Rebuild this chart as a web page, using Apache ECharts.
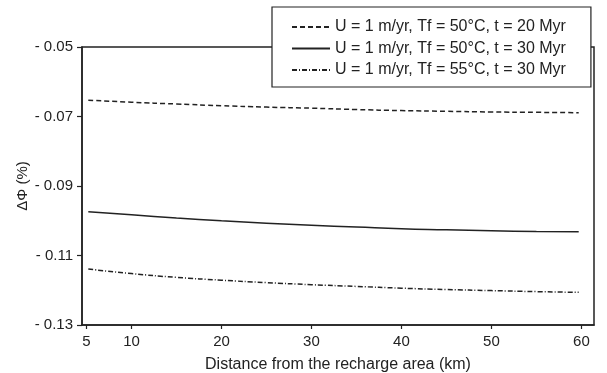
<!DOCTYPE html>
<html>
<head>
<meta charset="utf-8">
<script src="https://cdn.jsdelivr.net/npm/echarts@6/dist/echarts.min.js"></script>
<style>
  html, body { margin: 0; padding: 0; background: #fff; }
  #chart { width: 607px; height: 373px; }
</style>
</head>
<body>
<div id="chart"></div>
<script>
// distance from the recharge area (km)
const distance = [5.2, 10, 15, 20, 25, 30, 35, 40, 45, 50, 55, 59.7]

// ΔΦ (%) per scenario
const phi20Myr50C = [-0.0653, -0.0659, -0.0664, -0.0669, -0.0673, -0.0676, -0.0680, -0.0683, -0.0685, -0.0687, -0.0688, -0.0689]
const phi30Myr50C = [-0.0974, -0.0983, -0.0992, -0.1000, -0.1007, -0.1013, -0.1018, -0.1023, -0.1026, -0.1029, -0.1031, -0.1032]
const phi30Myr55C = [-0.1139, -0.1152, -0.1163, -0.1171, -0.1178, -0.1184, -0.1189, -0.1194, -0.1198, -0.1201, -0.1204, -0.1206]

const seriesNames = [
  'U = 1 m/yr, Tf = 50°C, t = 20 Myr',
  'U = 1 m/yr, Tf = 50°C, t = 30 Myr',
  'U = 1 m/yr, Tf = 55°C, t = 30 Myr',
]

const xTicks = [5, 10, 20, 30, 40, 50, 60]
const yTicks = [-0.13, -0.11, -0.09, -0.07, -0.05]

const ink = '#222'
const font = 'Liberation Sans, Arial, sans-serif'

const pairs = ys => distance.map((x, i) => [x, ys[i]])

const lineSeries = (name, ys, type) => ({
  name,
  type: 'line',
  symbol: 'none',
  smooth: true,
  data: pairs(ys),
  itemStyle: { color: ink },
  lineStyle: { color: ink, width: 1.5, type },
})

const option = {
  animation: false,
  backgroundColor: '#fff',
  grid: {
    left: 82,
    right: 13,
    top: 47,
    bottom: 48,
    outerBoundsMode: 'none',
    show: true,
    borderColor: ink,
    borderWidth: 1.5,
  },
  legend: {
    orient: 'vertical',
    left: 272,
    top: 7,
    padding: [12, 25, 9, 19],
    itemWidth: 38,
    itemHeight: 14,
    itemGap: 5.5,
    backgroundColor: '#fff',
    borderColor: ink,
    borderWidth: 1.2,
    itemStyle: { opacity: 0 },
    textStyle: { fontFamily: font, fontSize: 16, color: ink },
    data: seriesNames,
  },
  xAxis: {
    type: 'value',
    min: 4.5,
    max: 61.4,
    name: 'Distance from the recharge area (km)',
    nameLocation: 'middle',
    nameGap: 32,
    nameTextStyle: { fontFamily: font, fontSize: 16, color: ink },
    splitLine: { show: false },
    axisLine: { lineStyle: { color: ink, width: 1.5 } },
    axisTick: { customValues: xTicks, length: 4, lineStyle: { color: ink, width: 1.2 } },
    axisLabel: {
      customValues: xTicks,
      margin: 9,
      fontFamily: font,
      fontSize: 15,
      color: ink,
    },
  },
  yAxis: {
    type: 'value',
    min: -0.13,
    max: -0.05,
    name: 'ΔΦ (%)',
    nameLocation: 'middle',
    nameGap: 52,
    nameMoveOverlap: false,
    nameTextStyle: { fontFamily: font, fontSize: 15, color: ink },
    splitLine: { show: false },
    axisLine: { lineStyle: { color: ink, width: 1.5 } },
    axisTick: { customValues: yTicks, length: 5, lineStyle: { color: ink, width: 1.2 } },
    axisLabel: {
      customValues: yTicks,
      margin: 9,
      fontFamily: font,
      fontSize: 15,
      color: ink,
      formatter: v => '- ' + Math.abs(v).toFixed(2),
    },
  },
  series: [
    lineSeries(seriesNames[0], phi20Myr50C, [5, 3]),
    lineSeries(seriesNames[1], phi30Myr50C, 'solid'),
    lineSeries(seriesNames[2], phi30Myr55C, [5, 2, 1, 2]),
  ],
}

const myChart = echarts.init(document.getElementById('chart'))
myChart.setOption(option)
</script>
</body>
</html>
